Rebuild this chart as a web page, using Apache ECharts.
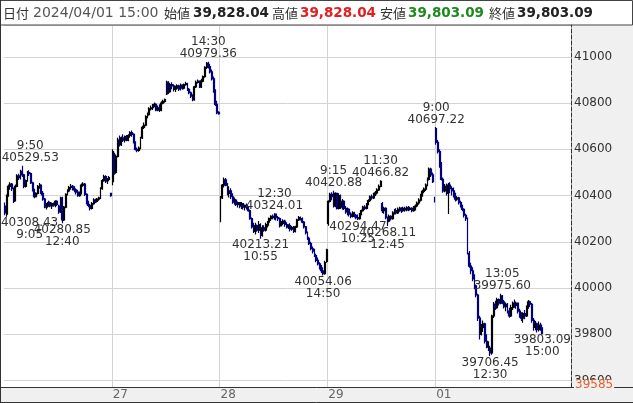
<!DOCTYPE html>
<html><head><meta charset="utf-8">
<script src="https://cdn.jsdelivr.net/npm/echarts@6/dist/echarts.min.js"></script>
<style>html,body{margin:0;padding:0;background:#fff}#c{width:633px;height:403px}</style>
</head><body><div id="c"></div>
<script>
// ---- data ----
const days = ['03/26','03/27','03/28','03/29','04/01'];
const dayLabels = ['26','27','28','29','01'];
const times = ['9:00','9:05','9:10','9:15','9:20','9:25','9:30','9:35','9:40','9:45','9:50','9:55',
 '10:00','10:05','10:10','10:15','10:20','10:25','10:30','10:35','10:40','10:45','10:50','10:55',
 '11:00','11:05','11:10','11:15','11:20','11:25','11:30',
 '12:30','12:35','12:40','12:45','12:50','12:55','13:00','13:05','13:10','13:15','13:20','13:25',
 '13:30','13:35','13:40','13:45','13:50','13:55','14:00','14:05','14:10','14:15','14:20','14:25',
 '14:30','14:35','14:40','14:45','14:50','14:55','15:00'];
// each bar: [open, close, low, high]
const d0326 = [[40355,40325,40315,40370],[40320,40400,40308.43,40405],[40400,40440,40395,40448],[40440,40450,40425,40458],[40450,40430,40420,40455],[40430,40375,40368,40435],[40378,40440,40375,40448],[40440,40485,40436,40492],[40485,40478,40468,40494],[40478,40505,40470,40512],[40505,40490,40480,40529.53],[40490,40440,40432,40495],[40440,40465,40435,40470],[40465,40500,40460,40506],[40500,40495,40485,40510],[40495,40455,40450,40500],[40455,40425,40418,40460],[40425,40395,40388,40430],[40395,40410,40392,40415],[40410,40440,40405,40446],[40440,40445,40430,40455],[40445,40410,40400,40448],[40410,40385,40378,40420],[40385,40350,40345,40390],[40350,40360,40340,40368],[40360,40370,40352,40378],[40370,40355,40350,40375],[40355,40365,40342,40370],[40365,40360,40352,40370],[40360,40375,40350,40380],[40375,40362,40355,40380],
 [40355,40330,40322,40360],[40330,40388,40325,40395],[40390,40295,40280.85,40395],[40295,40350,40290,40355],[40350,40405,40345,40410],[40405,40420,40400,40428],[40420,40435,40415,40442],[40435,40440,40425,40450],[40440,40430,40422,40446],[40430,40425,40415,40440],[40425,40415,40405,40432],[40415,40400,40395,40425],[40400,40410,40395,40418],[40410,40445,40405,40452],[40445,40450,40438,40458],[40450,40405,40398,40455],[40405,40370,40362,40410],[40370,40358,40350,40378],[40358,40345,40335,40365],[40345,40365,40340,40372],[40365,40380,40360,40388],[40380,40375,40368,40386],[40375,40385,40370,40390],[40385,40390,40378,40395],[40390,40430,40385,40436],[40430,40465,40425,40472],[40465,40482,40460,40490],[40482,40462,40455,40488],[40462,40470,40450,40476],[40470,40478,40462,40485],[40410,40400,40395,40412]];
const d0327 = [[40460,40590,40445,40600],[40580,40500,40490,40585],[40500,40570,40495,40578],[40570,40640,40565,40650],[40640,40620,40612,40660],[40620,40650,40615,40656],[40650,40640,40632,40665],[40640,40655,40630,40660],[40655,40640,40635,40662],[40640,40660,40635,40665],[40660,40672,40650,40678],[40672,40665,40655,40682],[40665,40630,40625,40670],[40630,40600,40595,40635],[40600,40595,40588,40608],[40595,40605,40590,40612],[40605,40650,40600,40655],[40650,40695,40645,40702],[40695,40705,40688,40716],[40705,40742,40700,40748],[40742,40750,40735,40760],[40750,40775,40745,40782],[40775,40780,40768,40790],[40780,40790,40770,40796],[40790,40795,40782,40803],[40795,40770,40765,40800],[40770,40780,40765,40790],[40780,40770,40762,40795],[40770,40800,40765,40808],[40800,40808,40795,40815],[40808,40815,40802,40820],
 [40840,40890,40835,40897],[40890,40850,40840,40895],[40850,40880,40845,40888],[40880,40875,40860,40890],[40875,40860,40850,40882],[40860,40865,40848,40875],[40865,40875,40858,40882],[40875,40860,40852,40880],[40860,40878,40855,40885],[40878,40865,40858,40882],[40865,40880,40860,40885],[40880,40885,40875,40892],[40885,40860,40852,40888],[40860,40845,40838,40865],[40845,40830,40822,40850],[40830,40815,40808,40838],[40815,40870,40810,40875],[40870,40890,40865,40898],[40890,40895,40885,40902],[40895,40870,40865,40898],[40870,40895,40866,40905],[40895,40915,40890,40920],[40915,40955,40910,40960],[40955,40972,40948,40978],[40972,40958,40950,40979.36],[40958,40935,40928,40970],[40935,40905,40898,40945],[40905,40850,40845,40915],[40850,40795,40788,40860],[40795,40758,40752,40810],[40760,40755,40750,40765]];
const d0328 = [[40300,40390,40285,40398],[40390,40445,40385,40450],[40445,40468,40435,40478],[40468,40445,40440,40476],[40445,40410,40402,40455],[40410,40420,40392,40440],[40420,40395,40385,40432],[40395,40372,40365,40410],[40372,40380,40360,40392],[40380,40362,40355,40385],[40362,40370,40348,40375],[40370,40355,40345,40372],[40355,40365,40342,40372],[40365,40350,40340,40368],[40350,40358,40335,40362],[40358,40345,40340,40366],[40345,40335,40330,40352],[40335,40300,40295,40340],[40300,40265,40258,40305],[40265,40245,40238,40282],[40245,40270,40232,40282],[40270,40250,40244,40275],[40250,40275,40238,40290],[40275,40228,40213.21,40280],[40228,40260,40222,40272],[40260,40250,40244,40272],[40250,40275,40245,40282],[40275,40285,40262,40290],[40285,40300,40270,40305],[40300,40310,40290,40315],[40310,40305,40298,40318],
 [40300,40320,40295,40324.01],[40320,40305,40292,40322],[40305,40300,40290,40312],[40300,40270,40262,40305],[40270,40280,40266,40290],[40280,40290,40272,40298],[40290,40275,40265,40295],[40275,40265,40258,40285],[40265,40270,40255,40276],[40270,40255,40245,40280],[40255,40262,40248,40268],[40262,40245,40238,40268],[40245,40265,40240,40270],[40265,40295,40260,40300],[40295,40305,40290,40312],[40305,40300,40292,40310],[40300,40285,40280,40305],[40285,40265,40258,40290],[40265,40240,40232,40268],[40240,40215,40208,40245],[40215,40192,40186,40222],[40192,40170,40164,40200],[40170,40160,40150,40180],[40160,40140,40134,40170],[40140,40120,40112,40148],[40120,40105,40098,40132],[40105,40088,40080,40112],[40088,40075,40065,40100],[40075,40062,40054.06,40090],[40062,40110,40058,40118],[40115,40165,40110,40170]];
const d0329 = [[40280,40375,40270,40380],[40375,40405,40370,40412],[40405,40395,40380,40415],[40395,40355,40348,40420.88],[40355,40410,40350,40415],[40410,40345,40340,40412],[40345,40400,40340,40410],[40400,40350,40342,40405],[40350,40375,40340,40385],[40375,40345,40338,40380],[40345,40330,40322,40355],[40330,40340,40315,40348],[40340,40320,40310,40345],[40320,40310,40302,40328],[40310,40325,40305,40332],[40325,40315,40305,40330],[40315,40305,40298,40320],[40305,40300,40294.47,40318],[40300,40320,40296,40325],[40320,40335,40315,40340],[40335,40350,40330,40356],[40350,40345,40338,40358],[40345,40362,40340,40368],[40362,40378,40358,40384],[40378,40395,40372,40400],[40395,40390,40382,40405],[40390,40405,40385,40412],[40405,40412,40398,40420],[40412,40425,40405,40432],[40425,40440,40420,40448],[40440,40462,40436,40466.82],
 [40365,40335,40325,40372],[40335,40345,40322,40352],[40345,40305,40298,40350],[40305,40290,40268.11,40310],[40290,40310,40285,40318],[40310,40300,40292,40315],[40300,40325,40296,40332],[40325,40335,40318,40342],[40335,40325,40318,40345],[40325,40340,40320,40348],[40340,40345,40330,40352],[40345,40335,40325,40350],[40335,40345,40330,40352],[40345,40338,40330,40352],[40338,40348,40332,40354],[40348,40340,40332,40355],[40340,40345,40335,40352],[40345,40335,40328,40350],[40335,40348,40330,40355],[40348,40355,40335,40362],[40355,40368,40350,40375],[40368,40380,40360,40388],[40380,40400,40375,40408],[40400,40418,40395,40425],[40418,40428,40410,40435],[40428,40445,40420,40452],[40445,40470,40440,40478],[40470,40515,40465,40522],[40515,40490,40480,40520],[40490,40460,40455,40500],[40392,40378,40370,40395]];
const d0401 = [[40690,40630,40620,40697.22],[40630,40590,40582,40640],[40590,40530,40520,40600],[40530,40470,40465,40545],[40470,40420,40412,40478],[40420,40440,40415,40450],[40440,40410,40400,40452],[40410,40445,40320,40455],[40445,40430,40410,40458],[40430,40420,40400,40440],[40420,40400,40392,40435],[40400,40385,40375,40412],[40385,40390,40378,40398],[40390,40370,40362,40395],[40370,40355,40348,40378],[40355,40340,40332,40360],[40340,40315,40305,40345],[40315,40300,40290,40322],[40300,40150,40145,40305],[40150,40095,40088,40160],[40095,40075,40060,40110],[40075,40040,40030,40090],[40040,40010,39995,40060],[40010,39970,39960,40015],[39970,39870,39858,39975],[39870,39800,39778,39880],[39800,39830,39795,39845],[39830,39845,39810,39860],[39845,39770,39760,39850],[39770,39745,39740,39800],[39745,39760,39728,39770],
 [39740,39720,39706.45,39750],[39720,39880,39712,39885],[39880,39930,39870,39940],[39930,39915,39905,39945],[39915,39950,39910,39958],[39950,39935,39925,39955],[39935,39965,39930,39975.60],[39965,39940,39930,39970],[39940,39920,39912,39948],[39920,39930,39900,39938],[39930,39900,39890,39935],[39900,39880,39872,39915],[39880,39915,39875,39928],[39915,39935,39905,39942],[39935,39925,39915,39950],[39925,39935,39910,39942],[39935,39900,39890,39938],[39900,39885,39872,39910],[39885,39870,39858,39895],[39870,39890,39850,39895],[39890,39880,39865,39905],[39880,39915,39875,39925],[39915,39940,39910,39948],[39940,39930,39918,39945],[39930,39860,39850,39935],[39860,39830,39815,39870],[39830,39845,39818,39858],[39845,39820,39808,39850],[39820,39840,39812,39855],[39840,39828.04,39815,39850],[39828.04,39803.09,39803.09,39828.04]];
// annotated highs (H) and lows (L): day, time, price
const notes = [
 ['03/26','9:50',40529.53,'H'],['03/26','9:05',40308.43,'L'],['03/26','12:40',40280.85,'L'],
 ['03/27','14:30',40979.36,'H'],
 ['03/28','12:30',40324.01,'H'],['03/28','10:55',40213.21,'L'],['03/28','14:50',40054.06,'L'],
 ['03/29','9:15',40420.88,'H'],['03/29','11:30',40466.82,'H'],['03/29','10:25',40294.47,'L'],['03/29','12:45',40268.11,'L'],
 ['04/01','9:00',40697.22,'H'],['04/01','13:05',39975.60,'H'],['04/01','12:30',39706.45,'L'],['04/01','15:00',39803.09,'L']
];
const headerLabels = ['日付','始値','高値','安値','終値'];
const headerValues = ['2024/04/01 15:00','39,828.04','39,828.04','39,803.09','39,803.09'];
const axisFloor = 39585;
const yMin = 39572, yMax = 41138;
const padSlots = 16;

// ---- build ----
const dayData = [d0326, d0327, d0328, d0329, d0401];
const cats = [], ohlc = [];
days.forEach((d, i) => { times.forEach((t, j) => { cats.push(d + ' ' + t); ohlc.push(dayData[i][j]); }); });
for (let i = 0; i < padSlots; i++) cats.push('pad' + i);
const perDay = times.length;
const isDayStart = (idx) => idx > 0 && idx % perDay === 0 && idx < days.length * perDay;
const labelShift = {'03/26 9:50': 8, '03/26 9:05': 23};
const markData = notes.map(n => {
  const key = n[0] + ' ' + n[1];
  const v = n[2].toFixed(2);
  const top = n[3] === 'H';
  return {
    coord: [key, n[2]], value: n[2],
    label: {position: top ? 'top' : 'bottom', distance: top ? 1 : 0,
      offset: [labelShift[key] || 0, 0],
      formatter: top ? (n[1] + '\n' + v) : (v + '\n' + n[1])}
  };
});

const chart = echarts.init(document.getElementById('c'), null, {renderer: 'canvas'});
const hx = [3, 164, 272, 380, 489];
const vx = [33, 193, 300, 408, 517];
const vColor = ['#555', '#222', '#e02020', '#1e8a1e', '#222'];
const vFont = ['14px "DejaVu Sans"', 'bold 13.5px "DejaVu Sans"', 'bold 13.5px "DejaVu Sans"', 'bold 13.5px "DejaVu Sans"', 'bold 13.5px "DejaVu Sans"'];
const graphics = [
  {type:'rect', z:-10, shape:{x:571, y:25, width:62, height:362}, style:{fill:'#f0f0f0'}},
  {type:'rect', z:-10, shape:{x:0, y:387, width:633, height:16}, style:{fill:'#f0f0f0'}},
  {type:'rect', z:50, shape:{x:0.5, y:0.5, width:632, height:24.5}, style:{fill:'none', stroke:'#444', lineWidth:1}},
  {type:'line', z:50, shape:{x1:0, y1:387.5, x2:633, y2:387.5}, style:{stroke:'#333', lineWidth:1}},
  {type:'line', z:50, shape:{x1:0, y1:402.5, x2:633, y2:402.5}, style:{stroke:'#333', lineWidth:1}},
  {type:'line', z:50, shape:{x1:0.5, y1:0, x2:0.5, y2:403}, style:{stroke:'#333', lineWidth:1}},
  {type:'text', z:60, x:574, y:390, style:{text:String(axisFloor), fill:'#e2602f', font:'12px "DejaVu Sans"', lineHeight:10, verticalAlign:'bottom', backgroundColor:'#f0f0f0', padding:[0,1,0,1]}}
];
headerLabels.forEach((t, i) => graphics.push({type:'text', z:60, x:hx[i], y:13, style:{text:t, fill:'#333', font:'13px "Noto Sans CJK JP"', verticalAlign:'middle'}}));
headerValues.forEach((t, i) => graphics.push({type:'text', z:60, x:vx[i], y:13, style:{text:t, fill:vColor[i], font:vFont[i], verticalAlign:'middle'}}));

chart.setOption({
  animation: false,
  backgroundColor: '#fff',
  grid: {left: 4, right: 62, top: 25, bottom: 16},
  xAxis: {
    type: 'category', data: cats, boundaryGap: true,
    axisLine: {show: false}, axisTick: {show: false},
    axisLabel: {interval: (idx) => isDayStart(idx), formatter: (val, idx) => dayLabels[Math.round(idx / perDay)],
      color: '#666', fontSize: 12, fontFamily: 'DejaVu Sans', align: 'left', margin: 2},
    splitLine: {show: true, interval: (idx) => isDayStart(idx), lineStyle: {color: '#d3d3d3', width: 1}}
  },
  yAxis: {
    type: 'value', position: 'right', min: yMin, max: yMax, splitNumber: 8, scale: true,
    axisLine: {show: true, lineStyle: {color: '#333', type: 'dashed', width: 1}},
    axisTick: {show: false},
    axisLabel: {color: '#333', fontSize: 12, fontFamily: 'DejaVu Sans', margin: 3, showMinLabel: false, showMaxLabel: false,
      formatter: (v) => String(v)},
    splitLine: {show: true, lineStyle: {color: '#d3d3d3', width: 1}}
  },
  graphic: graphics,
  series: [{
    type: 'candlestick', data: ohlc, barWidth: 1.4,
    itemStyle: {color: '#000000', color0: '#000080', borderColor: '#000000', borderColor0: '#000080', borderWidth: 1.2},
    markPoint: {
      symbol: 'rect', symbolSize: 1, silent: true, itemStyle: {color: 'rgba(0,0,0,0)'},
      label: {color: '#333', fontSize: 12, fontFamily: 'DejaVu Sans', lineHeight: 12},
      data: markData
    }
  }]
});
</script></body></html>
